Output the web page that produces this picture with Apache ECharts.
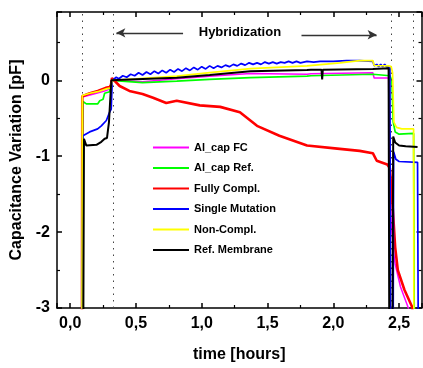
<!DOCTYPE html>
<html>
<head>
<meta charset="utf-8">
<script src="https://cdn.jsdelivr.net/npm/echarts@6/dist/echarts.min.js"></script>
<style>
  html, body { margin: 0; padding: 0; background: #fff; }
  #chart { width: 423px; height: 368px; }
</style>
</head>
<body>
<div id="chart"></div>
<script>
// series names, as in the legend
const seriesNames = ["Al_cap FC", "Al_cap Ref.", "Fully Compl.", "Single Mutation", "Non-Compl.", "Ref. Membrane"];

// [time in hours, capacitance variation in pF]
const alCapFC = [
  [0.09, -3.2], [0.093, -0.22], [0.2, -0.17], [0.28, -0.13], [0.31, -0.11], [0.318, 0.0],
  [0.55, -0.02], [0.81, 0.02], [1.06, 0.055], [1.37, 0.09], [1.8, 0.08], [1.81, 0.06], [1.83, 0.085],
  [2.3, 0.1], [2.31, 0.03], [2.42, 0.03], [2.425, -1.0], [2.44, -1.9], [2.46, -2.3], [2.47, -2.42],
  [2.51, -2.72], [2.57, -3.0], [2.58, -3.2]
];
const alCapRef = [
  [0.09, -3.2], [0.097, -0.28], [0.123, -0.31], [0.21, -0.31], [0.225, -0.27], [0.237, -0.29],
  [0.25, -0.25], [0.262, -0.17], [0.3, -0.15], [0.315, 0.0],
  [0.55, -0.03], [0.81, -0.01], [1.06, 0.013], [1.37, 0.035], [1.8, 0.056], [1.81, 0.035], [1.83, 0.06],
  [2.3, 0.08], [2.43, 0.06], [2.445, 0.0], [2.455, -0.55], [2.47, -0.68], [2.5, -0.71], [2.61, -0.7], [2.615, -3.2]
];
const fullyCompl = [
  [0.09, -3.2], [0.092, -0.21], [0.15, -0.17], [0.21, -0.14], [0.27, -0.1], [0.3, -0.09], [0.31, -0.06],
  [0.318, 0.03], [0.376, -0.075], [0.45, -0.14], [0.55, -0.18], [0.63, -0.23], [0.73, -0.3], [0.81, -0.27],
  [0.985, -0.33], [1.14, -0.35], [1.29, -0.42], [1.42, -0.6], [1.59, -0.73], [1.8, -0.86], [2.03, -0.9],
  [2.2, -0.93], [2.3, -0.96], [2.33, -1.06], [2.41, -1.11], [2.43, -1.16], [2.45, -1.64], [2.47, -2.2],
  [2.49, -2.5], [2.54, -2.76], [2.6, -2.99], [2.61, -3.2]
];
const singleMutation = [
  [0.09, -3.2], [0.097, -0.73], [0.148, -0.68], [0.209, -0.64], [0.237, -0.6], [0.275, -0.53], [0.3, -0.42],
  [0.312, -0.38], [0.32, 0.0], [0.35, 0.04], [0.37, 0.02], [0.4, 0.06], [0.43, 0.04], [0.46, 0.08], [0.49, 0.06],
  [0.52, 0.1], [0.55, 0.07], [0.58, 0.11], [0.61, 0.08], [0.64, 0.12], [0.67, 0.09], [0.7, 0.13], [0.73, 0.1],
  [0.76, 0.14], [0.79, 0.11], [0.82, 0.15], [0.85, 0.12], [0.88, 0.16], [0.91, 0.13], [0.94, 0.17], [0.97, 0.14],
  [1.0, 0.18], [1.03, 0.15], [1.06, 0.19], [1.09, 0.16], [1.12, 0.19], [1.15, 0.17], [1.18, 0.2], [1.21, 0.18],
  [1.24, 0.21], [1.27, 0.19], [1.3, 0.22], [1.33, 0.2], [1.36, 0.23], [1.39, 0.21], [1.42, 0.23], [1.45, 0.21],
  [1.48, 0.24], [1.51, 0.22], [1.54, 0.24], [1.57, 0.22], [1.6, 0.24], [1.63, 0.23], [1.66, 0.25], [1.69, 0.23],
  [1.72, 0.25], [1.75, 0.23], [1.8, 0.25], [1.85, 0.24], [1.9, 0.25], [2.0, 0.25], [2.1, 0.26], [2.2, 0.26],
  [2.3, 0.25], [2.31, 0.19], [2.33, 0.21], [2.345, 0.18], [2.36, 0.21], [2.375, 0.18], [2.39, 0.21], [2.405, 0.18],
  [2.42, 0.2], [2.43, 0.17], [2.435, -3.2], [2.455, -3.2], [2.458, -0.94], [2.475, -1.04], [2.5, -1.07],
  [2.64, -1.08], [2.645, -3.2]
];
const nonCompl = [
  [0.09, -3.2], [0.092, -0.2], [0.15, -0.17], [0.21, -0.15], [0.28, -0.11], [0.31, -0.1], [0.318, 0.0],
  [0.5, 0.02], [0.81, 0.056], [1.06, 0.1], [1.37, 0.155], [1.8, 0.19], [2.05, 0.23], [2.2, 0.26], [2.3, 0.26],
  [2.31, 0.195], [2.42, 0.19], [2.44, 0.18], [2.45, 0.1], [2.46, -0.55], [2.48, -0.62], [2.52, -0.64],
  [2.61, -0.64], [2.612, -3.2]
];
const refMembrane = [
  [0.1, -3.2], [0.105, -0.77], [0.123, -0.86], [0.2, -0.85], [0.237, -0.81], [0.262, -0.77], [0.28, -0.76],
  [0.295, -0.55], [0.308, -0.55], [0.313, 0.0], [0.5, 0.015], [0.81, 0.035], [1.06, 0.07], [1.37, 0.12],
  [1.8, 0.135], [1.81, 0.12], [1.83, 0.14], [1.91, 0.14], [1.915, 0.01], [1.92, 0.14], [2.3, 0.15],
  [2.42, 0.16], [2.425, -3.2], [2.45, -3.2], [2.455, -0.74], [2.47, -0.82], [2.5, -0.86], [2.55, -0.87], [2.64, -0.88]
];

// dotted vertical markers (hours)
const dottedTimes = [0.085, 0.325, 2.436, 2.61];
// "Hybridization" arrows: [from, to] in data coords, arrow head at "to"
const leftArrow = [[0.858, 0.626], [0.351, 0.626]];
const rightArrow = [[1.758, 0.6], [2.329, 0.6]];
const hybridLabelAt = [1.29, 0.626];

const xRange = [-0.1, 2.67];
const yRange = [-3, 0.9];

const allData = [alCapFC, alCapRef, fullyCompl, singleMutation, nonCompl, refMembrane];
const colors = ["#ff00ff", "#00ff00", "#ff0000", "#0000ff", "#ffff00", "#000000"];
const widths = [1.5, 1.7, 2.6, 1.7, 1.7, 2];

const font = "'Liberation Sans', Arial, sans-serif";

const chart = echarts.init(document.getElementById("chart"));

const axisLineStyle = { color: "#000", width: 1.5 };

const series = allData.map((d, i) => ({
  name: seriesNames[i],
  type: "line",
  data: d,
  symbol: "none",
  showSymbol: false,
  clip: true,
  color: colors[i],
  lineStyle: { color: colors[i], width: widths[i] },
  z: 3 + i,
}));

// dotted lines + arrows on helper series
series.push({
  type: "line",
  data: [],
  symbol: "none",
  markLine: {
    silent: true,
    symbol: "none",
    label: { show: false },
    lineStyle: { type: [1.5, 5], color: "#444", width: 1 },
    data: dottedTimes.map(t => ({ xAxis: t })),
  },
});
series.push({
  type: "line",
  data: [],
  symbol: "none",
  markLine: {
    silent: true,
    symbol: ["none", "arrow"],
    symbolSize: [7, 9],
    label: { show: false },
    lineStyle: { type: "solid", color: "#333", width: 1.3 },
    data: [
      [{ coord: leftArrow[0] }, { coord: leftArrow[1] }],
      [{ coord: rightArrow[0] }, { coord: rightArrow[1] }],
    ],
  },
});

const option = {
  animation: false,
  backgroundColor: "#fff",
  textStyle: { fontFamily: font },
  grid: { left: 57, right: 1.5, top: 12, bottom: 57 },
  legend: {
    data: seriesNames,
    orient: "vertical",
    left: 148,
    top: 137,
    icon: "rect",
    itemWidth: 36,
    itemHeight: 2,
    itemGap: 9.5,
    textStyle: { fontFamily: font, fontSize: 11, fontWeight: "bold", color: "#000" },
  },
  xAxis: [
    {
      type: "value",
      min: xRange[0],
      max: xRange[1],
      splitNumber: 5,
      position: "bottom",
      name: "time [hours]",
      nameLocation: "middle",
      nameGap: 39,
      nameTextStyle: { fontFamily: font, fontSize: 16, fontWeight: "bold", color: "#000" },
      axisLine: { onZero: false, lineStyle: axisLineStyle },
      axisTick: { inside: true, length: 5, lineStyle: axisLineStyle },
      minorTick: { show: true, splitNumber: 2, length: 3, lineStyle: { color: "#000", width: 1.2 } },
      axisLabel: {
        fontFamily: font, fontSize: 16, fontWeight: "bold", color: "#000", margin: 8,
        showMinLabel: false, showMaxLabel: false,
        formatter: v => v.toFixed(1).replace(".", ","),
      },
      splitLine: { show: false },
    },
    {
      type: "value",
      min: xRange[0],
      max: xRange[1],
      splitNumber: 5,
      position: "top",
      axisLine: { onZero: false, lineStyle: axisLineStyle },
      axisTick: { inside: true, length: 5, lineStyle: axisLineStyle },
      minorTick: { show: true, splitNumber: 2, length: 3, lineStyle: { color: "#000", width: 1.2 } },
      axisLabel: { show: false },
      splitLine: { show: false },
    },
  ],
  yAxis: [
    {
      type: "value",
      min: yRange[0],
      max: yRange[1],
      interval: 1,
      position: "left",
      name: "Capacitance Variation [pF]",
      nameLocation: "middle",
      nameGap: 25,
      nameTextStyle: { fontFamily: font, fontSize: 16, fontWeight: "bold", color: "#000" },
      axisLine: { onZero: false, lineStyle: axisLineStyle },
      axisTick: { inside: true, length: 5, lineStyle: axisLineStyle },
      minorTick: { show: true, splitNumber: 2, length: 3, lineStyle: { color: "#000", width: 1.2 } },
      axisLabel: {
        fontFamily: font, fontSize: 16, fontWeight: "bold", color: "#000", margin: 7,
        showMaxLabel: false,
      },
      splitLine: { show: false },
    },
    {
      type: "value",
      min: yRange[0],
      max: yRange[1],
      interval: 1,
      position: "right",
      axisLine: { onZero: false, lineStyle: axisLineStyle },
      axisTick: { inside: true, length: 5, lineStyle: axisLineStyle },
      minorTick: { show: true, splitNumber: 2, length: 3, lineStyle: { color: "#000", width: 1.2 } },
      axisLabel: { show: false },
      splitLine: { show: false },
    },
  ],
  series: series,
};

chart.setOption(option);

// "Hybridization" label placed in data coordinates
const p = chart.convertToPixel({ xAxisIndex: 0, yAxisIndex: 0 }, hybridLabelAt);
chart.setOption({
  graphic: [{
    type: "text",
    x: p[0],
    y: p[1],
    style: {
      text: "Hybridization",
      fontFamily: font,
      fontSize: 13,
      fontWeight: "bold",
      fill: "#000",
      align: "center",
      verticalAlign: "middle",
    },
  }],
});

window.addEventListener("resize", () => chart.resize());
</script>
</body>
</html>
